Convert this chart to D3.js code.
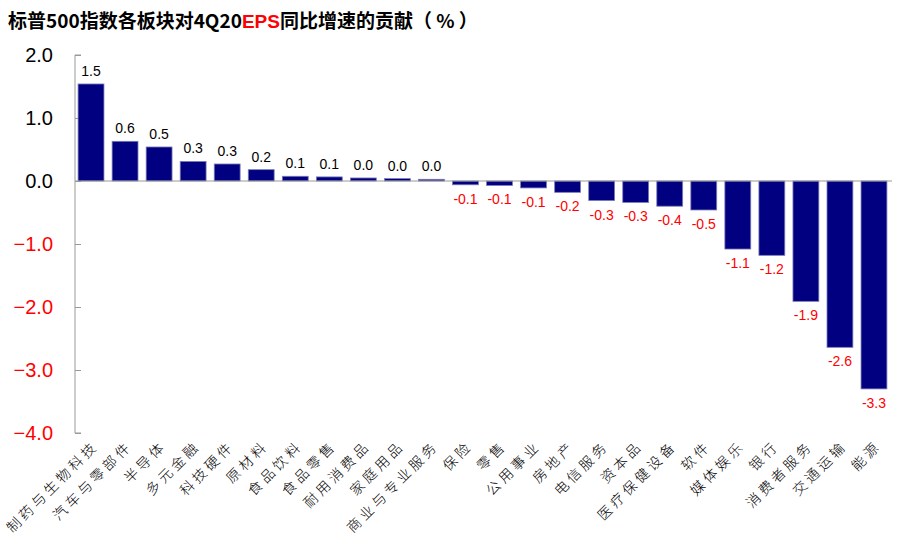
<!DOCTYPE html>
<html>
<head>
<meta charset="utf-8">
<script src="https://cdn.jsdelivr.net/npm/d3@7"></script>
<style>
  body { margin: 0; background: #fff; }
  svg { display: block; }
</style>
</head>
<body>
<div id="chart"></div>
<script>
// 板块名称
const sectors = ["制药与生物科技", "汽车与零部件", "半导体", "多元金融", "科技硬件", "原材料",
  "食品饮料", "食品零售", "耐用消费品", "家庭用品", "商业与专业服务", "保险", "零售",
  "公用事业", "房地产", "电信服务", "资本品", "医疗保健设备", "软件", "媒体娱乐", "银行",
  "消费者服务", "交通运输", "能源"];
// 对EPS同比增速的贡献（%）
const contrib = [1.54, 0.63, 0.54, 0.31, 0.27, 0.18, 0.075, 0.065, 0.048, 0.038, 0.027,
  -0.06, -0.07, -0.11, -0.18, -0.31, -0.34, -0.40, -0.46, -1.08, -1.18, -1.91, -2.64, -3.30];
const yTicks = [2, 1, 0, -1, -2, -3, -4];

const width = 897, height = 551;
const svg = d3.select("#chart").append("svg")
    .attr("width", width).attr("height", height);

// 标题
const title = svg.append("text")
    .attr("x", 8).attr("y", 28)
    .style("font-family", "'Noto Sans CJK SC', sans-serif")
    .style("font-weight", "bold")
    .style("font-size", "19px");
title.append("tspan").text("标普500指数各板块对4Q20");
title.append("tspan").attr("fill", "#ff0000")
    .style("font-family", "'Liberation Sans', Arial, sans-serif").text("EPS");
title.append("tspan").text("同比增速的贡献（ % ）");

const x = d3.scaleBand()
    .domain(sectors)
    .range([74, 891])
    .paddingInner(0.24)
    .paddingOuter(0.12);

const y = d3.scaleLinear()
    .domain([-4, 2])
    .range([433, 55]);

// y轴
const yAxis = d3.axisLeft(y)
    .tickValues(yTicks)
    .tickSize(-6)
    .tickPadding(22)
    .tickFormat(d3.format(".1f"));
const gy = svg.append("g")
    .attr("transform", "translate(75,0)")
    .call(yAxis);
gy.select(".domain").attr("stroke", "#999").attr("d", `M6,${y(2)}H0V${y(-4)}H6`);
gy.selectAll(".tick line").attr("stroke", "#999");
gy.selectAll(".tick text")
    .style("font-family", "'Liberation Sans', Arial, sans-serif")
    .style("font-size", "20px")
    .attr("fill", d => d < 0 ? "#ff0000" : "#000");

// 柱子
svg.append("g").selectAll("rect")
    .data(contrib)
    .join("rect")
    .attr("x", (d, i) => x(sectors[i]))
    .attr("width", x.bandwidth())
    .attr("y", d => y(Math.max(0, d)))
    .attr("height", d => Math.abs(y(d) - y(0)))
    .attr("fill", "#000080")
    .attr("stroke", "#7b7bb8")
    .attr("stroke-width", 0.8);

// 零线
svg.append("line")
    .attr("x1", 75).attr("x2", 892)
    .attr("y1", y(0)).attr("y2", y(0))
    .attr("stroke", "#999").attr("stroke-width", 1);

// 数据标签
svg.append("g").selectAll("text")
    .data(contrib)
    .join("text")
    .attr("x", (d, i) => x(sectors[i]) + x.bandwidth() / 2)
    .attr("y", d => d >= 0 ? y(d) - 8 : y(d) + 19)
    .attr("text-anchor", "middle")
    .style("font-family", "'Liberation Sans', Arial, sans-serif")
    .style("font-size", "14px")
    .attr("fill", d => d < 0 ? "#ff0000" : "#000")
    .text(d => d.toFixed(1));

// x轴标签
svg.append("g").selectAll("text")
    .data(sectors)
    .join("text")
    .attr("transform", d => `translate(${x(d) + x.bandwidth() / 2 + 8},${447}) rotate(-45)`)
    .attr("text-anchor", "end")
    .style("font-family", "'Noto Sans CJK SC', sans-serif")
    .style("font-size", "14px")
    .style("font-weight", 300)
    .style("letter-spacing", "3.5px")
    .attr("fill", "#000")
    .text(d => d);
</script>
</body>
</html>
